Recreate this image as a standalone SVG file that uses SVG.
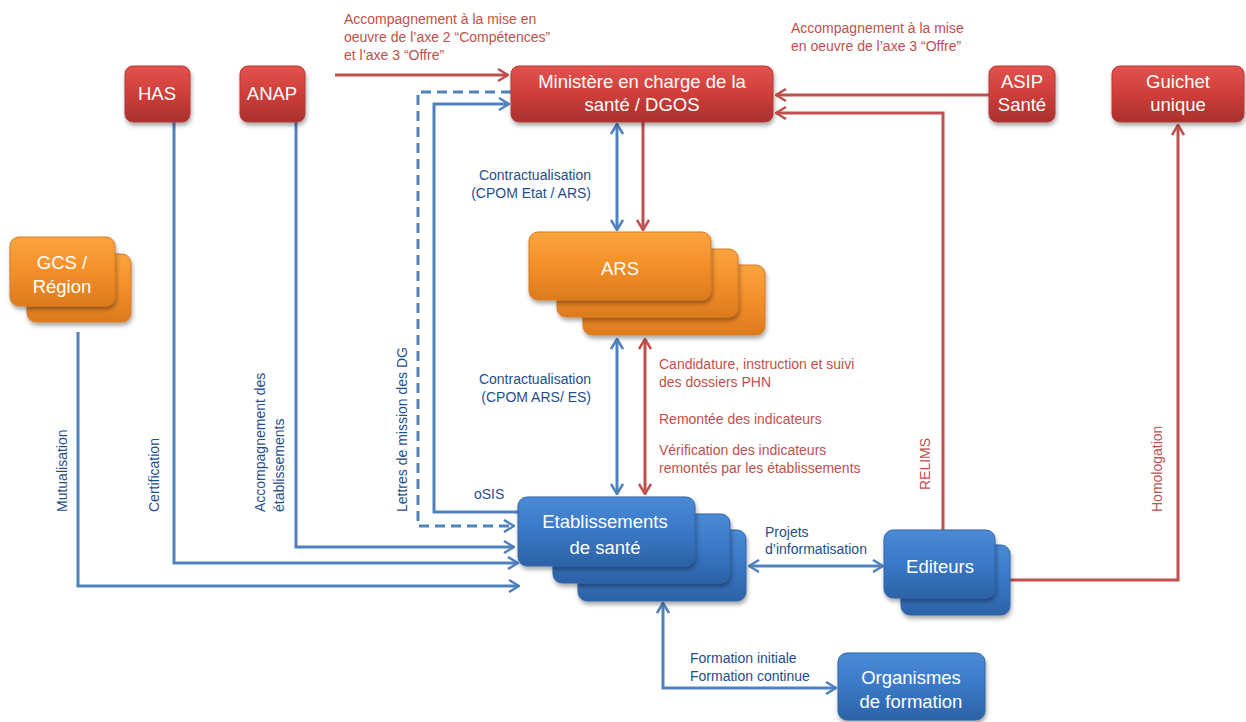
<svg xmlns="http://www.w3.org/2000/svg" width="1246" height="722" viewBox="0 0 1246 722">
<defs>
<linearGradient id="gRed" x1="0" y1="0" x2="0" y2="1">
<stop offset="0" stop-color="#e2524d"/><stop offset="0.5" stop-color="#cf3e3a"/><stop offset="1" stop-color="#a8302d"/>
</linearGradient>
<linearGradient id="gOr" x1="0" y1="0" x2="0" y2="1">
<stop offset="0" stop-color="#fba43f"/><stop offset="0.5" stop-color="#f38f2a"/><stop offset="1" stop-color="#dc7a1e"/>
</linearGradient>
<linearGradient id="gBl" x1="0" y1="0" x2="0" y2="1">
<stop offset="0" stop-color="#4b8ad6"/><stop offset="0.5" stop-color="#3a78c6"/><stop offset="1" stop-color="#2c62a6"/>
</linearGradient>
<filter id="sh" x="-10%" y="-10%" width="130%" height="140%">
<feDropShadow dx="1" dy="3" stdDeviation="2" flood-color="#000" flood-opacity="0.35"/>
</filter>
<marker id="ab" viewBox="0 0 12 14" refX="11" refY="7" markerWidth="12" markerHeight="14" orient="auto-start-reverse" markerUnits="userSpaceOnUse">
<path d="M1,1 L11,7 L1,13" fill="none" stroke="#4f81bd" stroke-width="2.5"/>
</marker>
<marker id="ar" viewBox="0 0 12 14" refX="11" refY="7" markerWidth="12" markerHeight="14" orient="auto-start-reverse" markerUnits="userSpaceOnUse">
<path d="M1,1 L11,7 L1,13" fill="none" stroke="#c0504d" stroke-width="2.5"/>
</marker>
</defs>
<style>
.red{fill:url(#gRed);stroke:#b33a36;stroke-width:1;filter:url(#sh)}
.or{fill:url(#gOr);stroke:#d67a22;stroke-width:1;filter:url(#sh)}
.bl{fill:url(#gBl);stroke:#2f64a8;stroke-width:1;filter:url(#sh)}
.nt{font-family:"Liberation Sans",Arial,sans-serif;font-size:18.5px;fill:#fff;text-anchor:middle}
.lb{font-family:"Liberation Sans",Arial,sans-serif;font-size:14px;fill:#1f4e8c}
.lr{font-family:"Liberation Sans",Arial,sans-serif;font-size:14px;fill:#c0504d}
.cb{fill:none;stroke:#4f81bd;stroke-width:3}
.cr{fill:none;stroke:#c0504d;stroke-width:3}
</style>
<rect width="1246" height="722" fill="#fff"/>

<g id="connectors">
<path class="cr" d="M335,75 H508" marker-end="url(#ar)"/>
<path class="cr" d="M989,95 H776" marker-end="url(#ar)"/>
<path class="cr" d="M943,530 V113 H776" marker-end="url(#ar)"/>
<path class="cr" d="M1010,580 H1178 V125" marker-end="url(#ar)"/>
<path class="cr" d="M643,122 V230" marker-end="url(#ar)"/>
<path class="cb" d="M617,124 V230" marker-start="url(#ab)" marker-end="url(#ab)"/>
<path class="cb" d="M617,339 V494" marker-start="url(#ab)" marker-end="url(#ab)"/>
<path class="cr" d="M645,339 V494" marker-start="url(#ar)" marker-end="url(#ar)"/>
<path class="cb" d="M511,92 H418 V526 H514" stroke-dasharray="10 6" marker-end="url(#ab)"/>
<path class="cb" d="M518,512 H434 V104 H509" marker-end="url(#ab)"/>
<path class="cb" d="M174,122 V563 H518" marker-end="url(#ab)"/>
<path class="cb" d="M296,122 V547 H514" marker-end="url(#ab)"/>
<path class="cb" d="M78,332 V586 H519" marker-end="url(#ab)"/>
<path class="cb" d="M749,566 H883" marker-start="url(#ab)" marker-end="url(#ab)"/>
<path class="cb" d="M663,603 V688 H836" marker-start="url(#ab)" marker-end="url(#ab)"/>
</g>

<g id="labels">
<text class="lr" x="344" y="24">Accompagnement à la mise en</text>
<text class="lr" x="344" y="42">oeuvre de l’axe 2 “Compétences”</text>
<text class="lr" x="344" y="60">et l’axe 3 “Offre”</text>
<text class="lr" x="791" y="33">Accompagnement à la mise</text>
<text class="lr" x="791" y="51">en oeuvre de l’axe 3 “Offre”</text>
<text class="lb" x="591" y="180" text-anchor="end">Contractualisation</text>
<text class="lb" x="591" y="198" text-anchor="end">(CPOM Etat / ARS)</text>
<text class="lb" x="591" y="384" text-anchor="end">Contractualisation</text>
<text class="lb" x="591" y="402" text-anchor="end">(CPOM ARS/ ES)</text>
<text class="lr" x="659" y="369">Candidature, instruction et suivi</text>
<text class="lr" x="659" y="387">des dossiers  PHN</text>
<text class="lr" x="659" y="424">Remontée des indicateurs</text>
<text class="lr" x="659" y="455">Vérification des indicateurs</text>
<text class="lr" x="659" y="473">remontés par les établissements</text>
<text class="lb" x="474" y="499">oSIS</text>
<text class="lb" transform="translate(407,512) rotate(-90)">Lettres de mission des DG</text>
<text class="lb" transform="translate(67,512) rotate(-90)">Mutualisation</text>
<text class="lb" transform="translate(159,512) rotate(-90)">Certification</text>
<text class="lb" transform="translate(265,512) rotate(-90)">Accompagnement des</text>
<text class="lb" transform="translate(284,512) rotate(-90)">établissements</text>
<text class="lr" transform="translate(930,490) rotate(-90)">RELIMS</text>
<text class="lr" transform="translate(1162,512) rotate(-90)">Homologation</text>
<text class="lb" x="765" y="537">Projets</text>
<text class="lb" x="765" y="554">d’informatisation</text>
<text class="lb" x="690" y="663">Formation initiale</text>
<text class="lb" x="690" y="681">Formation continue</text>
</g>

<g id="node-has">
<rect class="red" x="125" y="66" width="65" height="56" rx="8"/>
<text class="nt" x="157" y="100">HAS</text>
</g>
<g id="node-anap">
<rect class="red" x="240" y="66" width="65" height="56" rx="8"/>
<text class="nt" x="272" y="100">ANAP</text>
</g>
<g id="node-ministere">
<rect class="red" x="511" y="66" width="262" height="56" rx="8"/>
<text class="nt" x="642" y="88">Ministère en charge de la</text>
<text class="nt" x="642" y="111">santé / DGOS</text>
</g>
<g id="node-asip">
<rect class="red" x="989" y="66" width="66" height="56" rx="8"/>
<text class="nt" x="1022" y="88">ASIP</text>
<text class="nt" x="1022" y="111">Santé</text>
</g>
<g id="node-guichet">
<rect class="red" x="1112" y="66" width="132" height="56" rx="8"/>
<text class="nt" x="1178" y="88">Guichet</text>
<text class="nt" x="1178" y="111">unique</text>
</g>
<g id="node-gcs">
<rect class="or" x="27" y="254" width="104" height="68" rx="9"/>
<rect class="or" x="10" y="237" width="105" height="69" rx="9"/>
<text class="nt" x="62" y="269">GCS /</text>
<text class="nt" x="62" y="293">Région</text>
</g>
<g id="node-ars">
<rect class="or" x="583" y="265" width="182" height="70" rx="9"/>
<rect class="or" x="557" y="249" width="181" height="68" rx="9"/>
<rect class="or" x="529" y="232" width="182" height="68" rx="9"/>
<text class="nt" x="620" y="275">ARS</text>
</g>
<g id="node-etab">
<rect class="bl" x="578" y="530" width="168" height="71" rx="9"/>
<rect class="bl" x="553" y="514" width="177" height="69" rx="9"/>
<rect class="bl" x="518" y="497" width="177" height="69" rx="9"/>
<text class="nt" x="605" y="528">Etablissements</text>
<text class="nt" x="605" y="554">de santé</text>
</g>
<g id="node-editeurs">
<rect class="bl" x="901" y="545" width="109" height="70" rx="9"/>
<rect class="bl" x="884" y="530" width="111" height="68" rx="9"/>
<text class="nt" x="940" y="573">Editeurs</text>
</g>
<g id="node-organismes">
<rect class="bl" x="838" y="653" width="147" height="67" rx="9"/>
<text class="nt" x="911" y="684">Organismes</text>
<text class="nt" x="911" y="708">de formation</text>
</g>
</svg>
